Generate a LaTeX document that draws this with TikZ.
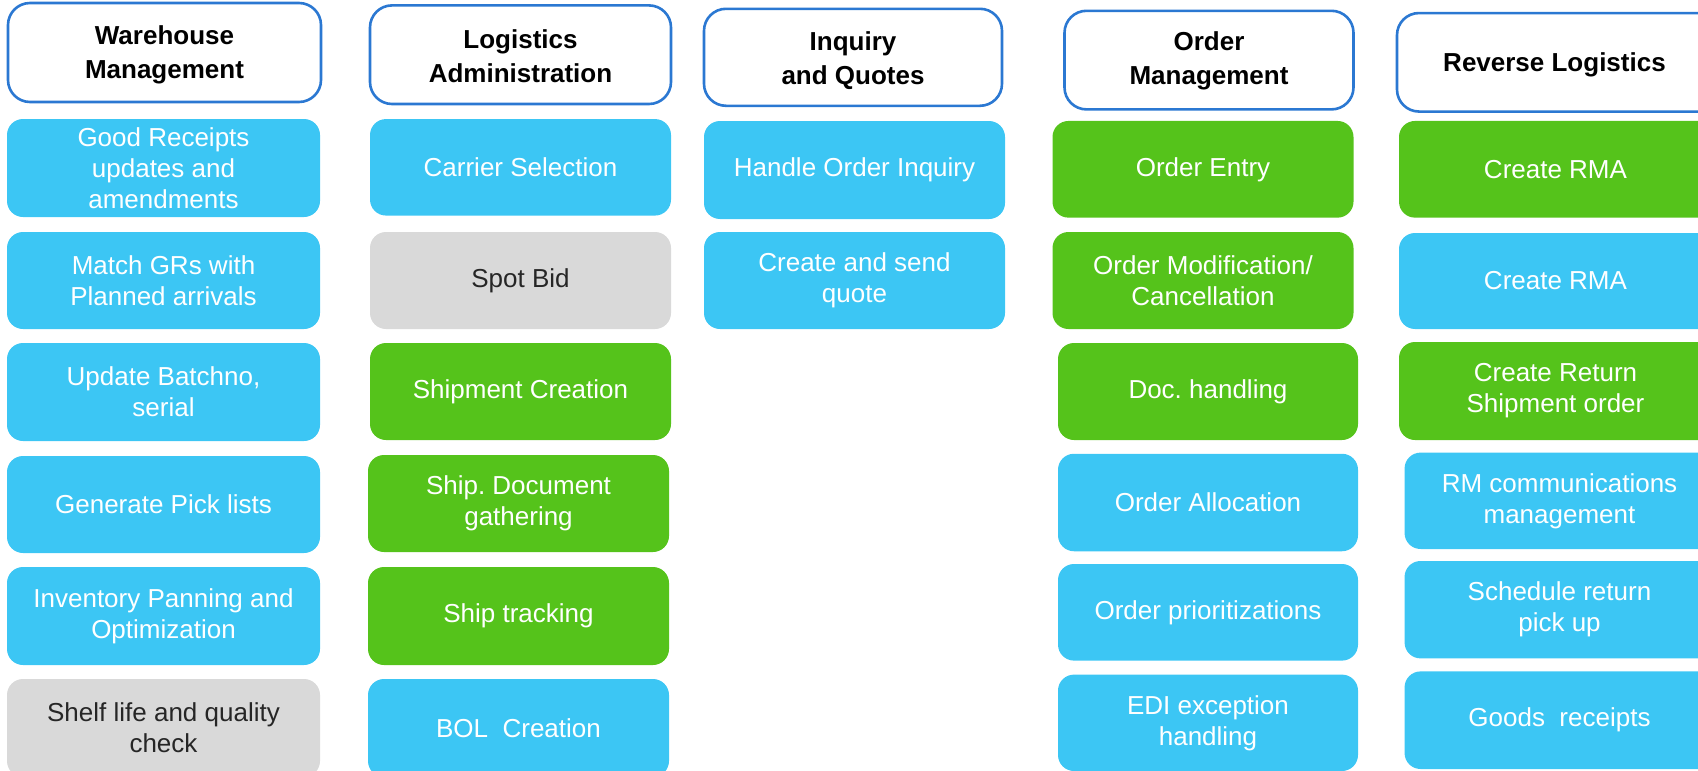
\documentclass[tikz,border=0pt]{standalone}
\usepackage{fontspec}
\setmainfont{Liberation Sans}
\frenchspacing
\usetikzlibrary{backgrounds}
\definecolor{bluefill}{HTML}{3CC6F4}
\definecolor{greenfill}{HTML}{55C31B}
\definecolor{grayfill}{HTML}{D9D9D9}
\definecolor{hdrborder}{HTML}{2B78D2}
\definecolor{darktext}{HTML}{262626}
\tikzset{
  base/.style={inner sep=0pt, outer sep=0pt, align=center,
    font=\fontsize{26}{31}\selectfont},
  hdr/.style={base, draw=hdrborder, line width=2.6pt, fill=white,
    rounded corners=22pt},
  hdrtext/.style={inner sep=0pt, outer sep=0pt, align=center,
    font=\fontsize{26}{34}\selectfont\bfseries, text=black},
  bluebox/.style={base, fill=bluefill, rounded corners=16pt, text=white},
  greenbox/.style={base, fill=greenfill, rounded corners=16pt, text=white},
  graybox/.style={base, fill=grayfill, rounded corners=16pt, text=darktext},
  wtext/.style={base, text=white},
}
\begin{document}
\begin{tikzpicture}[x=1pt,y=-1pt]
\useasboundingbox (0,0) rectangle (1698,771);
\clip (0,0) rectangle (1698,771);
% Headers
\node[hdr, minimum width=313pt, minimum height=99pt] (h1) at (164.5,52.5) {};
\node[hdrtext] (h1t) at ([yshift=-2pt]h1.center) {Warehouse\\Management};
\node[hdr, minimum width=301pt, minimum height=98.6pt] (h2) at (520.5,54.7) {};
\node[hdrtext] (h2t) at ([yshift=-2pt]h2.center) {Logistics\\Administration};
\node[hdr, minimum width=298pt, minimum height=97pt] (h3) at (853,57.3) {};
\node[hdrtext] (h3t) at ([yshift=-3pt]h3.center) {Inquiry\\and Quotes};
\node[hdr, minimum width=289pt, minimum height=98.6pt] (h4) at (1209,60.1) {};
\node[hdrtext] (h4t) at ([yshift=-1pt]h4.center) {Order\\Management};
\node[hdr, minimum width=343pt, minimum height=98.5pt] (h5) at (1568.5,62.3) {};
\node[hdrtext] (h5t) at (1554.5,65) {Reverse Logistics};
% Column 1
\node[bluebox, minimum width=313pt, minimum height=98pt] (a1) at (163.5,168) {Good Receipts\\updates and\\amendments};
\node[bluebox, minimum width=313pt, minimum height=97pt] (a2) at (163.5,280.5) {Match GRs with\\Planned arrivals};
\node[bluebox, minimum width=313pt, minimum height=98pt] (a3) at (163.5,392) {Update Batchno,\\serial};
\node[bluebox, minimum width=313pt, minimum height=97pt] (a4) at (163.5,504.5) {Generate Pick lists};
\node[bluebox, minimum width=313pt, minimum height=98pt] (a5) at (163.5,616) {Inventory Panning and\\Optimization};
\node[graybox, minimum width=313pt, minimum height=98pt] (a6) at (163.5,728) {Shelf life and quality\\check};
% Column 2
\node[bluebox, minimum width=301pt, minimum height=96.5pt] (b1) at (520.5,167.3) {Carrier Selection};
\node[graybox, minimum width=301pt, minimum height=97pt] (b2) at (520.5,280.5) {Spot Bid};
\node[greenbox, minimum width=301pt, minimum height=97pt] (b3) at (520.5,391.5) {Shipment Creation};
\node[greenbox, minimum width=301pt, minimum height=97pt] (b4) at (518.5,503.5) {Ship. Document\\gathering};
\node[greenbox, minimum width=301pt, minimum height=98pt] (b5) at (518.5,616) {Ship tracking};
\node[bluebox, minimum width=301pt, minimum height=98pt] (b6) at (518.5,728) {BOL\ \ Creation};
% Column 3
\node[bluebox, minimum width=301pt, minimum height=98pt] (c1) at (854.5,170) {Handle Order Inquiry};
\node[bluebox, minimum width=301pt, minimum height=97pt] (c2) at (854.5,280.5) {Create and send\\quote};
% Column 4
\node[greenbox, minimum width=301pt, minimum height=96.7pt] (d1) at (1203,169.3) {Order Entry};
\node[greenbox, minimum width=301pt, minimum height=97pt] (d2) at (1203,280.5) {Order Modification/\\Cancellation};
\node[greenbox, minimum width=300pt, minimum height=97pt] (d3) at (1208,391.5) {Doc. handling};
\node[bluebox, minimum width=300pt, minimum height=97.5pt] (d4) at (1208,502.5) {Order Allocation};
\node[bluebox, minimum width=300pt, minimum height=96.6pt] (d5) at (1208,612.3) {Order prioritizations};
\node[bluebox, minimum width=300pt, minimum height=96.4pt] (d6) at (1208,722.8) {EDI exception\\handling};
% Column 5 (boxes run past the right edge)
\node[greenbox, minimum width=341pt, minimum height=96.7pt] (e1) at (1569.5,169.3) {};
\node[wtext] (e1t) at (1555.5,169.3) {Create RMA};
\node[bluebox, minimum width=341pt, minimum height=96pt] (e2) at (1569.5,281) {};
\node[wtext] (e2t) at (1555.5,281) {Create RMA};
\node[greenbox, minimum width=341pt, minimum height=98pt] (e3) at (1569.5,391) {};
\node[wtext] (e3t) at (1555.5,391) {Create Return\\Shipment order};
\node[bluebox, minimum width=335.5pt, minimum height=96.4pt] (e4) at (1572.3,500.8) {};
\node[wtext] (e4t) at (1559.5,500.8) {RM communications\\management};
\node[bluebox, minimum width=335.5pt, minimum height=97.4pt] (e5) at (1572.3,609.7) {};
\node[wtext] (e5t) at (1559.5,609.7) {Schedule return\\pick up};
\node[bluebox, minimum width=335.5pt, minimum height=97.6pt] (e6) at (1572.3,720.2) {};
\node[wtext] (e6t) at (1559.5,720.2) {Goods\ \ receipts};
\end{tikzpicture}
\end{document}
